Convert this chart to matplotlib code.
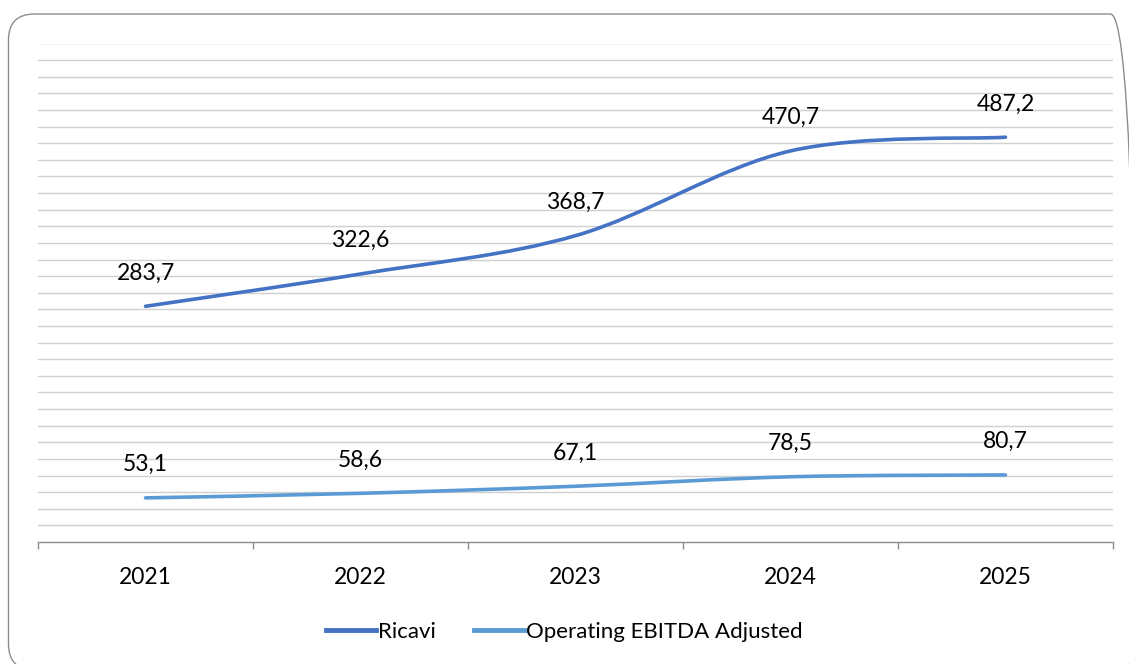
import matplotlib
matplotlib.use("Agg")
import matplotlib.pyplot as plt
from matplotlib.path import Path
from matplotlib.patches import PathPatch, FancyBboxPatch
from matplotlib.lines import Line2D
from matplotlib.transforms import IdentityTransform

plt.rcParams['font.family'] = ['Lato', 'DejaVu Sans']

years = ['2021', '2022', '2023', '2024', '2025']
ricavi = [283.7, 322.6, 368.7, 470.7, 487.2]
ebitda = [53.1, 58.6, 67.1, 78.5, 80.7]
series_names = ['Ricavi', 'Operating EBITDA Adjusted']
colors = ['#4472C4', '#5B9BD5']


def smooth_path(xs, ys):
    # Catmull-Rom style bezier, like Excel "smoothed line"
    pts = list(zip(xs, ys))
    verts = [pts[0]]
    codes = [Path.MOVETO]
    n = len(pts)
    for i in range(n - 1):
        p0 = pts[i - 1] if i > 0 else pts[i]
        p1 = pts[i]
        p2 = pts[i + 1]
        p3 = pts[i + 2] if i + 2 < n else pts[i + 1]
        c1 = (p1[0] + (p2[0] - p0[0]) / 6, p1[1] + (p2[1] - p0[1]) / 6)
        c2 = (p2[0] - (p3[0] - p1[0]) / 6, p2[1] - (p3[1] - p1[1]) / 6)
        verts += [c1, c2, p2]
        codes += [Path.CURVE4] * 3
    return Path(verts, codes)


fig = plt.figure(figsize=(11.29, 6.64), dpi=100)

# rounded chart border, in pixels
border = FancyBboxPatch((8.5, -6), 1128, 656,
                        boxstyle="round,pad=0,rounding_size=26",
                        transform=IdentityTransform(), fill=False,
                        edgecolor='#8c8c8c', linewidth=1.0, clip_on=False)
fig.patches.append(border)

ax = fig.add_axes([38 / 1129, 122 / 664, 1075 / 1129, 498.5 / 664])
ax.set_xlim(-0.5, 4.5)
ax.set_ylim(0, 600)

for y in range(20, 601, 20):
    ax.axhline(y, color='#d0d0d0', linewidth=1.0, zorder=0)

xs = list(range(len(years)))
for vals, col in zip([ricavi, ebitda], colors):
    ax.add_patch(PathPatch(smooth_path(xs, vals), facecolor='none',
                           edgecolor=col, linewidth=2.6, capstyle='round',
                           zorder=3))
    for x, v in zip(xs, vals):
        ax.annotate(f"{v:.1f}".replace('.', ','), (x, v), xytext=(0, 24),
                    textcoords='offset points', ha='center', va='center',
                    fontsize=16.5, color='#000000')

for s in ['top', 'right', 'left']:
    ax.spines[s].set_visible(False)
ax.spines['bottom'].set_color('#8c8c8c')
ax.spines['bottom'].set_linewidth(1.0)

ax.set_yticks([])
ax.set_xticks([-0.5 + i for i in range(6)])
ax.set_xticklabels([])
ax.tick_params(axis='x', which='major', direction='out', length=5,
               color='#8c8c8c', width=1.0)
ax.set_xticks(xs, minor=True)
ax.set_xticklabels(years, minor=True, fontsize=16.5)
ax.tick_params(axis='x', which='minor', length=0, pad=18)

handles = [Line2D([], [], color=c, linewidth=3.5) for c in colors]
fig.legend(handles, series_names, loc='center', bbox_to_anchor=(0.5, 32 / 664),
           ncol=2, frameon=False, fontsize=16, handlelength=2.25,
           handletextpad=0.1, columnspacing=1.7)

fig.savefig('out.png', dpi=100)
